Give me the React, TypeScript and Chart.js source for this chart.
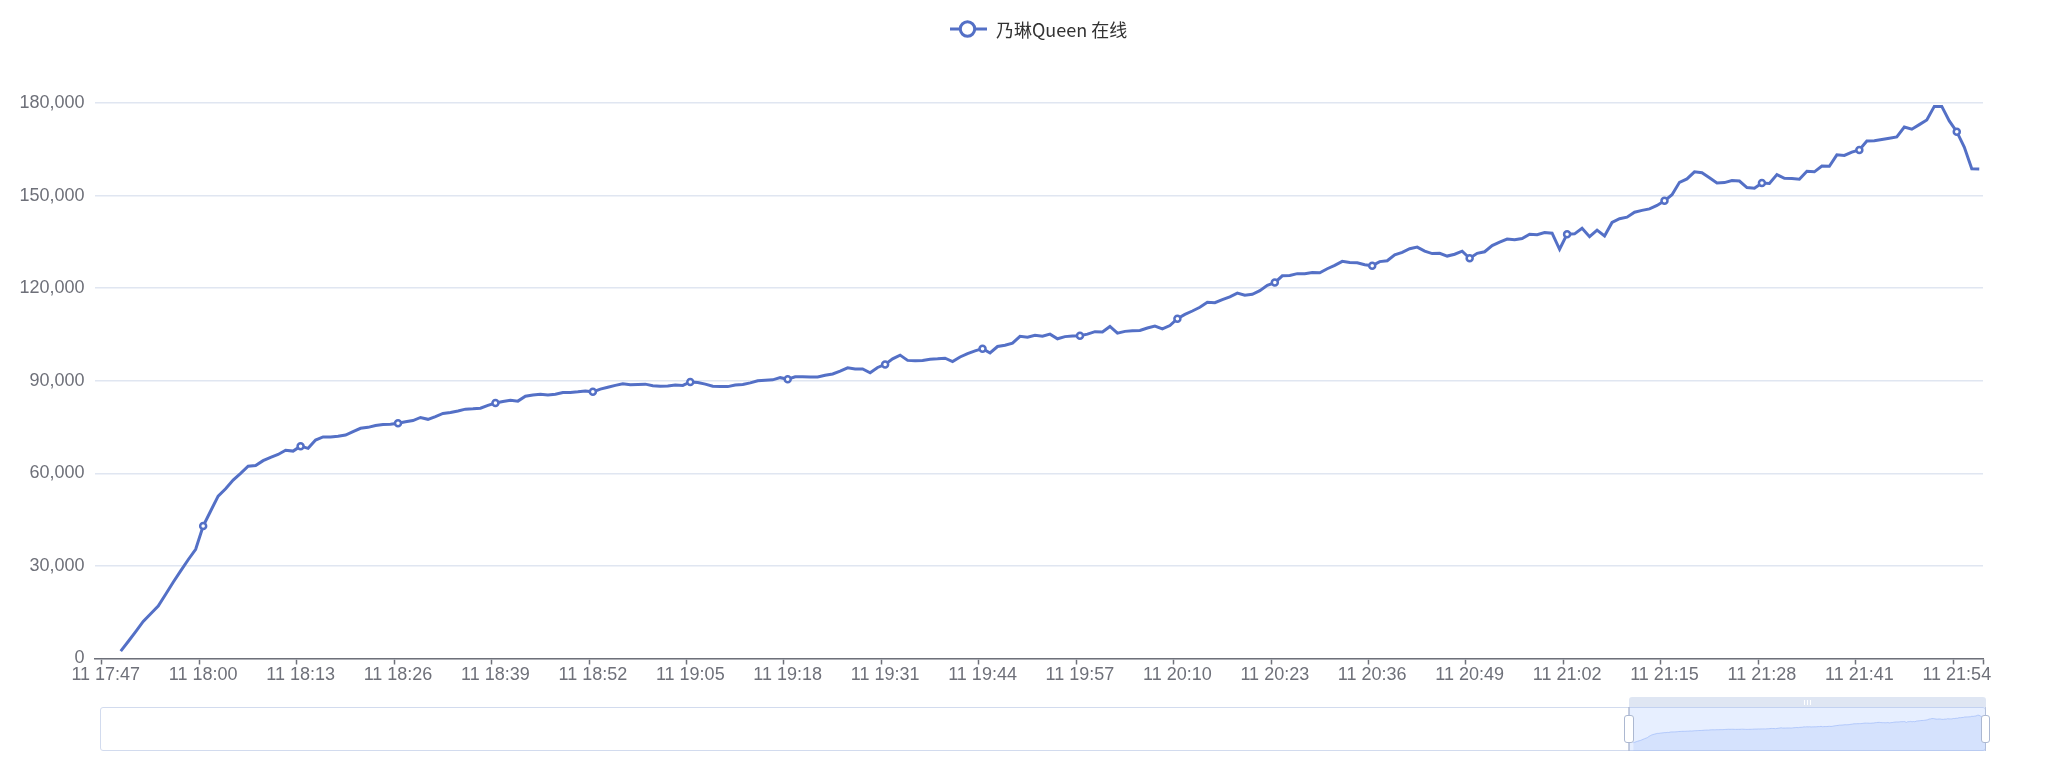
import React, { useEffect, useRef } from 'react';
import { Chart, registerables } from 'chart.js';

Chart.register(...registerables);

// ---------- data ----------
const SERIES_NAME = '乃琳Queen 在线';
const DAY_PREFIX = '11';
const FIRST_TIME = { hour: 17, minute: 46 };
const CATEGORY_COUNT = 252;

function buildTimeLabels(): string[] {
  const out: string[] = [];
  for (let i = 0; i < CATEGORY_COUNT; i++) {
    const total = FIRST_TIME.hour * 60 + FIRST_TIME.minute + i;
    const h = Math.floor(total / 60);
    const m = total % 60;
    out.push(`${DAY_PREFIX} ${h}:${m < 10 ? '0' + m : m}`);
  }
  return out;
}
const timeLabels = buildTimeLabels();

// label / symbol shown every 13 categories, starting at index 1 (11 17:47)
const LABEL_FIRST_INDEX = 1;
const LABEL_STEP = 13;

const yTickValues = [0, 30000, 60000, 90000, 120000, 150000, 180000];

const onlineValues: (number | null)[] = [
  null, null, null, 2400, 5500, 8700, 12000, 14500, 17000, 20800,
  24700, 28400, 32000, 35400, 42900, 47800, 52600, 55000, 57800, 60000,
  62300, 62500, 64100, 65200, 66100, 67500, 67200, 68800, 68100, 70800,
  71800, 71800, 72000, 72400, 73500, 74600, 74900, 75500, 75800, 75900,
  76200, 76700, 77100, 78100, 77500, 78400, 79400, 79700, 80200, 80800,
  80900, 81100, 82000, 82800, 83300, 83700, 83400, 85000, 85400, 85600,
  85400, 85600, 86200, 86200, 86400, 86700, 86400, 87300, 87900, 88500,
  89000, 88700, 88800, 88900, 88400, 88200, 88300, 88600, 88500, 89600,
  89400, 88900, 88200, 88100, 88100, 88600, 88800, 89300, 90000, 90200,
  90300, 91000, 90500, 91300, 91300, 91200, 91200, 91800, 92200, 93100,
  94200, 93800, 93800, 92600, 94300, 95300, 97100, 98300, 96600, 96500,
  96600, 97000, 97100, 97300, 96200, 97700, 98800, 99700, 100400, 99000,
  101100, 101500, 102200, 104400, 104100, 104700, 104400, 105100, 103600, 104300,
  104500, 104600, 105100, 105900, 105800, 107600, 105400, 106000, 106200, 106300,
  107100, 107700, 106800, 107900, 110100, 111500, 112600, 113800, 115400, 115300,
  116300, 117200, 118400, 117700, 118000, 119200, 120900, 121800, 124000, 124100,
  124700, 124700, 125100, 125000, 126300, 127400, 128700, 128300, 128200, 127600,
  127300, 128600, 128900, 130800, 131600, 132800, 133300, 132000, 131200, 131300,
  130400, 131000, 132000, 129700, 131300, 131800, 133800, 134900, 135900, 135700,
  136100, 137500, 137300, 138000, 137800, 132600, 137500, 137600, 139400, 136700,
  138800, 136900, 141300, 142500, 143000, 144600, 145200, 145700, 146800, 148300,
  150300, 154300, 155400, 157700, 157400, 155800, 154100, 154200, 154900, 154700,
  152600, 152400, 154100, 153900, 156800, 155600, 155500, 155300, 157900, 157700,
  159600, 159500, 163200, 163000, 164100, 164800, 167700, 167800, 168200, 168600,
  169000, 172200, 171500, 173000, 174500, 178900, 178900, 174200, 170700, 165700,
  158700, 158600,
];

// ---------- styles ----------
const BLUE = '#5470c6';
const AXIS_COLOR = '#6E7079';
const GRID_COLOR = '#E0E6F1';
const FONT = "'Liberation Sans', Arial, sans-serif";
const W = 2052;
const H = 774;

const isLabelIndex = (i: number) =>
  i >= LABEL_FIRST_INDEX && (i - LABEL_FIRST_INDEX) % LABEL_STEP === 0;

export default function App() {
  const mainRef = useRef<HTMLCanvasElement>(null);
  const shadowRef = useRef<HTMLCanvasElement>(null);

  useEffect(() => {
    const main = new Chart(mainRef.current as HTMLCanvasElement, {
      type: 'line',
      data: {
        labels: timeLabels,
        datasets: [
          {
            label: SERIES_NAME,
            data: onlineValues,
            borderColor: BLUE,
            backgroundColor: BLUE,
            borderWidth: 3,
            tension: 0,
            pointRadius: (ctx: any) => (isLabelIndex(ctx.dataIndex) ? 3 : 0),
            pointBackgroundColor: '#ffffff',
            pointBorderColor: BLUE,
            pointBorderWidth: 2.5,
            fill: false,
          } as any,
        ],
      },
      options: {
        animation: false,
        responsive: false,
        maintainAspectRatio: false,
        events: [],
        layout: { padding: { top: 103, right: 69, bottom: 0, left: 0 } },
        plugins: {
          legend: { display: false },
          tooltip: { enabled: false },
        },
        scales: {
          x: {
            type: 'category',
            offset: true,
            grid: {
              display: true,
              offset: true,
              drawOnChartArea: false,
              drawTicks: true,
              tickLength: 6,
              tickWidth: 1.5,
              color: 'rgba(0,0,0,0)',
              tickColor: (ctx: any) =>
                ctx.type === 'tick'
                  ? isLabelIndex(ctx.index)
                    ? AXIS_COLOR
                    : 'rgba(0,0,0,0)'
                  : AXIS_COLOR,
            } as any,
            border: { display: true, color: AXIS_COLOR, width: 1.5 },
            ticks: {
              autoSkip: false,
              maxRotation: 0,
              minRotation: 0,
              padding: 0,
              color: AXIS_COLOR,
              font: { family: FONT, size: 18 },
              callback: (_v: any, i: number) => (isLabelIndex(i) ? timeLabels[i] : ''),
            },
            afterFit: (s: any) => {
              s.height = 115.5;
            },
          },
          y: {
            type: 'linear',
            min: yTickValues[0],
            max: yTickValues[yTickValues.length - 1],
            afterBuildTicks: (s: any) => {
              s.ticks = yTickValues.map((v) => ({ value: v }));
            },
            ticks: {
              padding: 10,
              color: AXIS_COLOR,
              font: { family: FONT, size: 18 },
              callback: (v: any) => Number(v).toLocaleString('en-US'),
            },
            grid: { color: GRID_COLOR, lineWidth: 1.5, drawTicks: false },
            border: { display: false },
            afterFit: (s: any) => {
              s.width = 94.5;
            },
          },
        },
      },
    });

    const nums = onlineValues.filter((v) => v !== null) as number[];
    const lo = Math.min(...nums);
    const hi = Math.max(...nums);
    const pad = (hi - lo) * 0.3;

    const shadow = new Chart(shadowRef.current as HTMLCanvasElement, {
      type: 'line',
      data: {
        labels: timeLabels,
        datasets: [
          {
            data: onlineValues,
            borderColor: 'rgba(143,176,247,0.7)',
            borderWidth: 0.8,
            backgroundColor: 'rgba(143,176,247,0.2)',
            fill: 'start',
            pointRadius: 0,
            tension: 0,
          } as any,
        ],
      },
      options: {
        animation: false,
        responsive: false,
        maintainAspectRatio: false,
        events: [],
        layout: { padding: 0 },
        plugins: { legend: { display: false }, tooltip: { enabled: false } },
        scales: {
          x: { display: false, offset: false },
          y: { display: false, min: lo - pad, max: hi + pad },
        },
      },
    });

    return () => {
      main.destroy();
      shadow.destroy();
    };
  }, []);

  const abs = (s: React.CSSProperties): React.CSSProperties => ({
    position: 'absolute',
    boxSizing: 'border-box',
    ...s,
  });

  return (
    <div style={{ position: 'absolute', left: 0, top: 0, width: W, height: H, background: '#fff', overflow: 'hidden' }}>
      <canvas ref={mainRef} width={W} height={H} style={abs({ left: 0, top: 0, width: W, height: H })} />

      {/* legend */}
      <div
        style={abs({
          left: 950,
          top: 18,
          height: 22,
          display: 'flex',
          alignItems: 'center',
          whiteSpace: 'nowrap',
        })}
      >
        <svg width={37} height={22} style={{ display: 'block' }}>
          <line x1={0} y1={11} x2={37} y2={11} stroke={BLUE} strokeWidth={3} />
          <circle cx={17.5} cy={11} r={7.2} fill="#fff" stroke={BLUE} strokeWidth={3} />
        </svg>
        <span
          style={{
            marginLeft: 9,
            fontFamily: "'Noto Sans CJK SC', 'Liberation Sans', sans-serif",
            fontSize: 18,
            lineHeight: '22px',
            color: '#333',
          }}
        >
          {SERIES_NAME}
        </span>
      </div>

      {/* dataZoom slider */}
      <div style={abs({ left: 100, top: 707, width: 1886, height: 44, border: '1.5px solid #D2DBEE', borderRadius: 3 })} />
      <div style={abs({ left: 1628.5, top: 707, width: 357, height: 44, background: 'rgba(135,175,255,0.2)' })} />
      <canvas ref={shadowRef} width={357} height={44} style={abs({ left: 1628.5, top: 707, width: 357, height: 44 })} />
      <div
        style={abs({
          left: 1628.5,
          top: 697,
          width: 357,
          height: 10,
          background: 'rgba(210,219,238,0.7)',
          borderTopLeftRadius: 3,
          borderTopRightRadius: 3,
        })}
      />
      <div style={abs({ left: 1803.5, top: 699.5, width: 1.2, height: 5, background: '#fff' })} />
      <div style={abs({ left: 1806.5, top: 699.5, width: 1.2, height: 5, background: '#fff' })} />
      <div style={abs({ left: 1809.5, top: 699.5, width: 1.2, height: 5, background: '#fff' })} />
      <div style={abs({ left: 1628, top: 707, width: 1.5, height: 44, background: 'rgba(172,184,209,0.7)' })} />
      <div style={abs({ left: 1984.5, top: 707, width: 1.5, height: 44, background: 'rgba(172,184,209,0.7)' })} />
      <div
        style={abs({
          left: 1624,
          top: 715,
          width: 9.5,
          height: 28,
          background: '#fff',
          border: '1.5px solid #ACB8D1',
          borderRadius: 3,
        })}
      />
      <div
        style={abs({
          left: 1980.5,
          top: 715,
          width: 9.5,
          height: 28,
          background: '#fff',
          border: '1.5px solid #ACB8D1',
          borderRadius: 3,
        })}
      />
    </div>
  );
}
